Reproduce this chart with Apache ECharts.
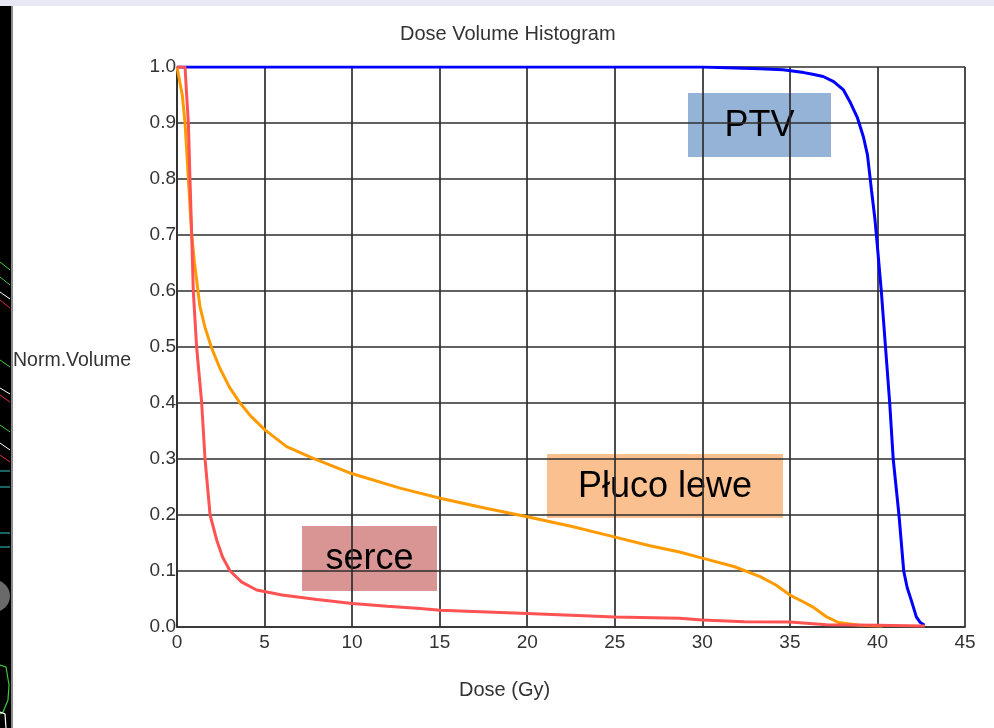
<!DOCTYPE html>
<html>
<head>
<meta charset="utf-8">
<script src="https://cdn.jsdelivr.net/npm/echarts@6/dist/echarts.min.js"></script>
<style>
  html, body { margin: 0; padding: 0; background: #fff; }
  #chart { width: 994px; height: 728px; }
</style>
</head>
<body>
<div id="chart"></div>
<script>
// Dose Volume Histogram: cumulative volume fraction per structure vs dose (Gy)
const chartTitle = 'Dose Volume Histogram';
const xAxisTitle = 'Dose (Gy)';
const yAxisTitle = 'Norm.Volume';

const xTicks = { min: 0, max: 45, step: 5 };
const yTicks = { min: 0, max: 1, step: 0.1 };

// PTV
const ptvDose = [0, 30, 33.3, 34.6, 35.8, 36.3, 36.9, 37.5, 38.06, 38.46, 38.86, 39.2, 39.43, 39.66, 39.85, 39.94, 40.22, 40.46, 40.7, 40.9, 41.23, 41.5, 41.7, 41.93, 42.22, 42.45, 42.69];
const ptvVol  = [1.0, 1.0, 0.997, 0.995, 0.99, 0.987, 0.983, 0.974, 0.959, 0.936, 0.909, 0.875, 0.843, 0.78, 0.73, 0.7, 0.6, 0.5, 0.4, 0.3, 0.2, 0.1, 0.07, 0.048, 0.018, 0.008, 0.003];

// Płuco lewe (left lung)
const lungDose = [0, 0.06, 0.3, 0.46, 0.65, 0.84, 1.0, 1.31, 1.6, 1.98, 2.45, 3.0, 3.6, 4.2, 5.02, 6.26, 7.78, 9.97, 12.74, 13.87, 15.03, 17.5, 20, 22.5, 24.97, 27, 28.7, 30, 31.8, 33.3, 34.2, 35.0, 35.7, 36.3, 37.1, 37.77, 38.3, 39.0, 40.3];
const lungVol  = [1.0, 1.0, 0.95, 0.9, 0.8, 0.7, 0.65, 0.572, 0.535, 0.498, 0.462, 0.428, 0.4, 0.377, 0.352, 0.322, 0.301, 0.274, 0.248, 0.239, 0.23, 0.213, 0.197, 0.18, 0.161, 0.145, 0.134, 0.123, 0.108, 0.09, 0.075, 0.057, 0.046, 0.036, 0.018, 0.008, 0.006, 0.003, 0.002];

// Serce (heart)
const heartDose = [0, 0.46, 0.55, 0.65, 0.74, 0.84, 0.93, 1.12, 1.41, 1.6, 1.89, 2.27, 2.6, 3.03, 3.7, 4.55, 6, 8, 10, 12, 13.9, 15.03, 20, 25, 28.7, 30, 32.4, 35, 37.1, 40, 42.7];
const heartVol  = [1.0, 1.0, 0.95, 0.9, 0.8, 0.7, 0.6, 0.5, 0.4, 0.3, 0.2, 0.155, 0.125, 0.1, 0.08, 0.066, 0.057, 0.049, 0.042, 0.037, 0.033, 0.03, 0.024, 0.018, 0.0155, 0.0125, 0.0095, 0.009, 0.004, 0.003, 0.002];

const structureNames = ['PTV', 'Płuco lewe', 'serce'];

const zip = (xs, ys) => xs.map((x, i) => [x, ys[i]]);

const gridColor = '#2e2e2e';
const fontStack = 'Liberation Sans, Arial, sans-serif';
const labelFont = { color: '#333', fontFamily: fontStack, fontSize: 19 };

// small coloured contour fragments on the dark side strip
const stripMarks = [
  [0, 262, 10, 270, '#3cc83c'], [0, 277, 10, 285, '#3cc83c'], [0, 292, 10, 299, '#ffffff'],
  [0, 300, 10, 308, '#e03040'], [0, 360, 10, 367, '#3cc83c'], [0, 388, 10, 394, '#ffffff'],
  [0, 395, 10, 402, '#e03040'], [0, 425, 10, 432, '#3cc83c'], [0, 443, 10, 450, '#ffffff'],
  [0, 455, 10, 462, '#e03040'], [0, 471, 10, 471, '#30c8c8'], [0, 487, 10, 487, '#30c8c8'],
  [0, 533, 10, 533, '#30c8c8'], [0, 547, 10, 547, '#30c8c8']
];

const graphics = [
  { type: 'rect', shape: { x: 0, y: 0, width: 994, height: 6 }, style: { fill: '#e8e8f4' }, silent: true },
  { type: 'rect', shape: { x: 0, y: 6, width: 11, height: 722 }, style: { fill: '#000' }, silent: true },
  { type: 'rect', shape: { x: 11, y: 6, width: 2, height: 722 }, style: { fill: '#8a8a8a' }, silent: true },
  { type: 'circle', shape: { cx: -6, cy: 596, r: 16 }, style: { fill: '#6a6a6a' }, silent: true },
  { type: 'polyline', shape: { points: [[0, 665], [6, 667], [9, 685], [8, 700], [3, 712], [0, 714]] }, style: { stroke: '#3cc83c', lineWidth: 1.2, fill: null }, silent: true },
  { type: 'polyline', shape: { points: [[0, 712], [5, 714], [6, 728]] }, style: { stroke: '#ffffff', lineWidth: 1.2, fill: null }, silent: true },
  ...stripMarks.map(m => ({ type: 'line', shape: { x1: m[0], y1: m[1], x2: m[2], y2: m[3] }, style: { stroke: m[4], lineWidth: 1 }, silent: true })),
  // axis names
  { type: 'text', left: 13, top: 351, style: { text: yAxisTitle, fill: '#333', font: '19.5px ' + fontStack }, silent: true },
  { type: 'text', left: 459, top: 680, style: { text: xAxisTitle, fill: '#333', font: '20px ' + fontStack }, silent: true },
  // structure annotations
  { type: 'group', left: 688, top: 93, children: [
    { type: 'rect', shape: { x: 0, y: 0, width: 143, height: 64 }, style: { fill: '#95b3d7' } },
    { type: 'text', x: 71.5, y: 33, style: { text: structureNames[0], fill: '#000', font: '36px ' + fontStack, align: 'center', verticalAlign: 'middle' } }
  ] },
  { type: 'group', left: 547, top: 454, children: [
    { type: 'rect', shape: { x: 0, y: 0, width: 236, height: 64 }, style: { fill: '#fac090' } },
    { type: 'text', x: 118, y: 33, style: { text: structureNames[1], fill: '#000', font: '36px ' + fontStack, align: 'center', verticalAlign: 'middle' } }
  ] },
  { type: 'group', left: 302, top: 526, children: [
    { type: 'rect', shape: { x: 0, y: 0, width: 135, height: 65 }, style: { fill: '#d99594' } },
    { type: 'text', x: 67.5, y: 33, style: { text: structureNames[2], fill: '#000', font: '36px ' + fontStack, align: 'center', verticalAlign: 'middle' } }
  ] }
];

const chart = echarts.init(document.getElementById('chart'), null, { renderer: 'canvas' });

const curveStyle = { type: 'line', showSymbol: false, symbol: 'none', smooth: false };

chart.setOption({
  backgroundColor: '#ffffff',
  animation: false,
  title: {
    text: chartTitle,
    left: 395,
    top: 19,
    textStyle: { color: '#333', fontWeight: 'normal', fontFamily: fontStack, fontSize: 20 }
  },
  grid: { left: 177, right: 29, top: 67, bottom: 101, containLabel: false },
  xAxis: {
    type: 'value',
    min: xTicks.min,
    max: xTicks.max,
    interval: xTicks.step,
    axisLine: { show: true, lineStyle: { color: gridColor, width: 1.7 } },
    axisTick: { show: false },
    axisLabel: { ...labelFont, margin: 6, showMinLabel: true, showMaxLabel: true },
    splitLine: { show: true, showMinLine: true, showMaxLine: true, lineStyle: { color: gridColor, width: 1.7 } }
  },
  yAxis: {
    type: 'value',
    min: yTicks.min,
    max: yTicks.max,
    interval: yTicks.step,
    axisLine: { show: true, lineStyle: { color: gridColor, width: 1.7 } },
    axisTick: { show: false },
    axisLabel: { ...labelFont, margin: 1, padding: [0, 0, 12, 0], formatter: v => v.toFixed(1), showMinLabel: true, showMaxLabel: true },
    splitLine: { show: true, showMinLine: true, showMaxLine: true, lineStyle: { color: gridColor, width: 1.7 } }
  },
  series: [
    { ...curveStyle, name: structureNames[0], data: zip(ptvDose, ptvVol), lineStyle: { color: '#0000ff', width: 3 }, z: 3 },
    { ...curveStyle, name: structureNames[1], data: zip(lungDose, lungVol), lineStyle: { color: '#ff9a00', width: 3 }, z: 4 },
    { ...curveStyle, name: structureNames[2], data: zip(heartDose, heartVol), lineStyle: { color: '#ff5252', width: 3 }, z: 5 }
  ],
  graphic: graphics
});
</script>
</body>
</html>
